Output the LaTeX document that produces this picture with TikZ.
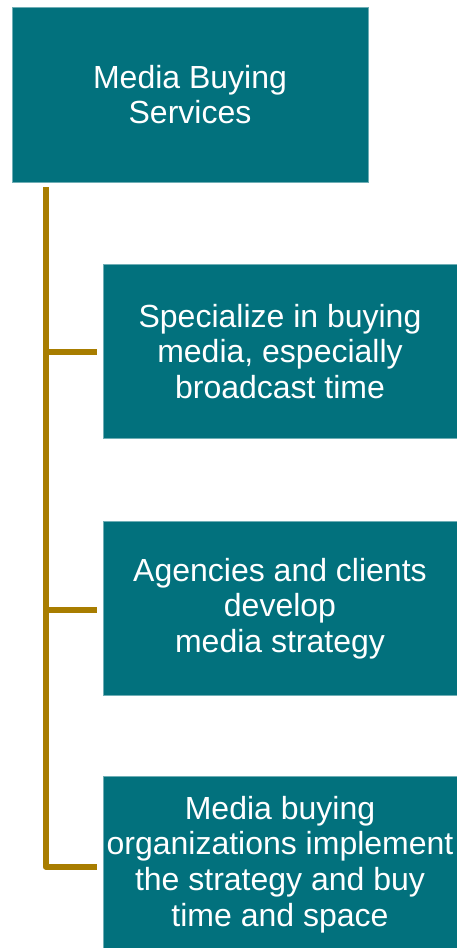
\documentclass[tikz,border=0pt]{standalone}
\usepackage{fontspec}
\setmainfont{Liberation Sans}
\definecolor{boxteal}{HTML}{02717D}
\definecolor{edgeteal}{HTML}{6FAEB5}
\definecolor{linegold}{HTML}{A87D00}
\tikzset{
  tealbox/.style={fill=boxteal, draw=edgeteal, line width=0.6pt, text=white, align=center,
    inner sep=0pt, font=\fontsize{32}{35.7}\selectfont},
  conn/.style={draw=linegold, line width=6pt, line join=round}
}
\begin{document}
\begin{tikzpicture}[x=1pt,y=-1pt]
\useasboundingbox (0,0) rectangle (457,948);
\node[tealbox, minimum width=356pt, minimum height=175pt] (top) at (190,94.5) {Media Buying\\Services};
\node[tealbox, minimum width=354pt, minimum height=174pt] (c1) at (280,351.5) {Specialize in buying\\media, especially\\broadcast time};
\node[tealbox, minimum width=354pt, minimum height=174pt] (c2) at (280,608.5) {Agencies and clients\\develop\\media strategy};
\node[tealbox, minimum width=354pt, minimum height=176pt] (c3) at (280,864.5) {Media buying\\organizations implement\\the strategy and buy\\time and space};
\coordinate (spine) at ([shift={(34pt,-5pt)}]top.south west);
\draw[conn] (spine) |- ([shift={(-6pt,-2pt)}]c3.west);
\draw[conn] (spine |- c1.west) -- ([xshift=-6pt]c1.west);
\draw[conn] ([yshift=-1pt]spine |- c2.west) -- ([shift={(-6pt,-1pt)}]c2.west);
\end{tikzpicture}
\end{document}
